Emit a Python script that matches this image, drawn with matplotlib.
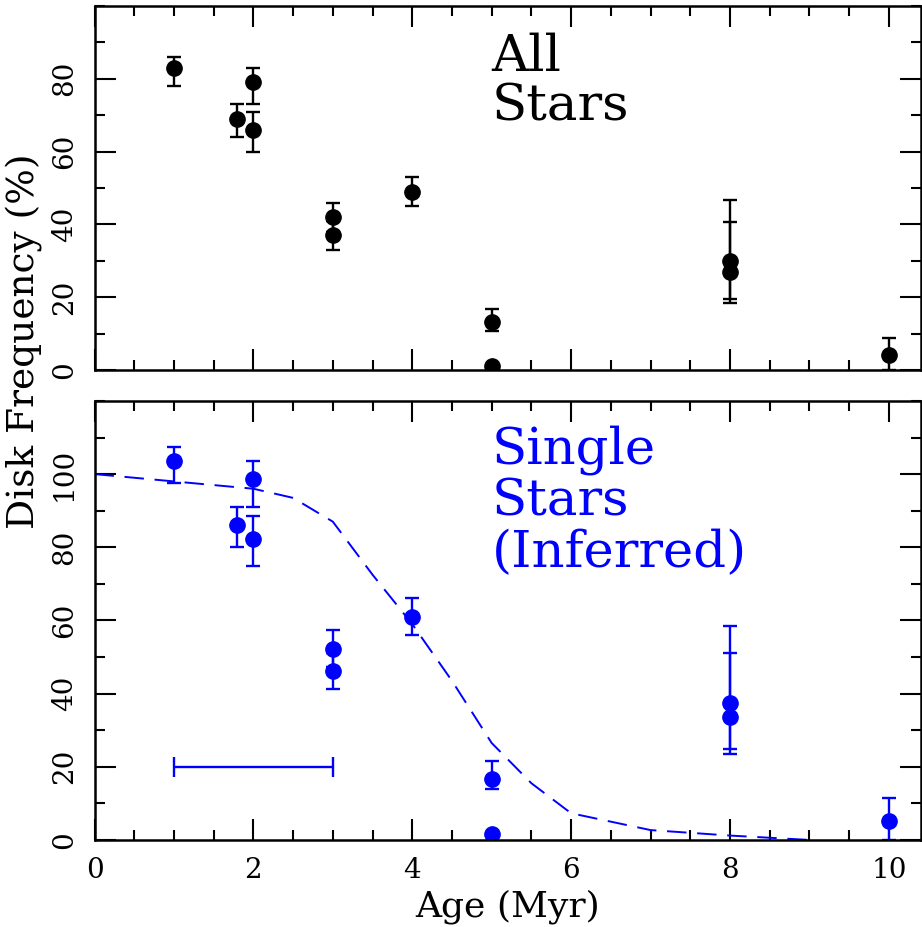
import matplotlib
matplotlib.use("Agg")
import matplotlib.pyplot as plt
from matplotlib.ticker import MultipleLocator

plt.rcParams["font.family"] = ["DejaVu Serif"]

# ── data ────────────────────────────────────────────────────────────────────
age_all = [1, 1.8, 2, 2, 3, 3, 4, 5, 5, 8, 8, 10]
freq_all = [83, 69, 79, 66, 42, 37, 49, 13.2, 1, 30, 27, 4]
all_err_lo = [5, 5, 6, 6, 4, 4, 4, 2.5, 0, 11.5, 7.5, 4]
all_err_hi = [3, 4, 4, 5, 4, 4, 4, 3.5, 0, 16.6, 13.6, 4.7]

age_single = [1, 1.8, 2, 2, 3, 3, 4, 5, 5, 8, 8, 10]
freq_single = [103.6, 86.1, 98.6, 82.3, 52.3, 46.1, 61.0, 16.7, 1.5, 37.5, 33.7, 5.2]
single_err_lo = [6.1, 6.1, 7.5, 7.3, 5, 4.9, 4.9, 2.9, 0, 13.9, 8.9, 5.2]
single_err_hi = [3.7, 5.0, 5.0, 6.2, 5.1, 5, 5.1, 4.8, 0, 21.1, 17.4, 6.2]

# dashed model curve
model_age = [0, 1, 2, 2.5, 3, 3.5, 4, 4.5, 5, 5.5, 6, 7, 8, 9]
model_freq = [100, 98, 96, 93.5, 87, 72.5, 59, 43.5, 26.5, 15.5, 7.3, 2.7, 1.2, 0]

# age-uncertainty bar
bar_age, bar_err, bar_y = 2, 1, 20

BLUE = "#0000FF"

fig = plt.figure(figsize=(9.22, 9.27), dpi=100)
ax1 = fig.add_axes([0.1025, 0.6009, 0.896, 0.3927])
ax2 = fig.add_axes([0.1025, 0.0939, 0.896, 0.4736])

eb_kw = dict(fmt="o", markersize=11, elinewidth=1.7, capsize=5.3,
             capthick=1.7, linestyle="none")

ax1.errorbar(age_all, freq_all, yerr=[all_err_lo, all_err_hi],
             color="black", **eb_kw)
ax2.errorbar(age_single, freq_single, yerr=[single_err_lo, single_err_hi],
             color=BLUE, **eb_kw)
ax2.errorbar([bar_age], [bar_y], xerr=[bar_err], fmt="none", ecolor=BLUE,
             elinewidth=1.7, capsize=7, capthick=1.7)
ax2.plot(model_age, model_freq, color=BLUE, linewidth=1.4,
         dashes=(10, 5.5))

txt_kw = dict(fontsize=37)
ax1.text(5.0, 82.2, "All", color="black", **txt_kw)
ax1.text(5.0, 68.5, "Stars", color="black", **txt_kw)
ax2.text(5.0, 102.9, "Single", color=BLUE, **txt_kw)
ax2.text(5.0, 88.7, "Stars", color=BLUE, **txt_kw)
ax2.text(5.0, 74.6, "(Inferred)", color=BLUE, **txt_kw)

ax1.set_ylim(0, 100)
ax2.set_ylim(0, 120)
ax1.set_yticks([0, 20, 40, 60, 80])
ax2.set_yticks([0, 20, 40, 60, 80, 100])

for ax in (ax1, ax2):
    ax.set_xlim(0, 10.4)
    ax.set_xticks([0, 2, 4, 6, 8, 10])
    ax.xaxis.set_minor_locator(MultipleLocator(0.5))
    ax.yaxis.set_minor_locator(MultipleLocator(10))
    ax.tick_params(which="both", direction="in", top=True, right=True,
                   width=1.5, labelsize=20, pad=12)
    ax.tick_params(which="major", length=15)
    ax.tick_params(which="minor", length=7.5)
    ax.tick_params(axis="y", labelrotation=90)
    for lab in ax.get_yticklabels():
        lab.set_va("center")
    for s in ax.spines.values():
        s.set_linewidth(1.8)

ax1.tick_params(axis="x", labelbottom=False)

ax2.set_xlabel("Age (Myr)", fontsize=26, labelpad=4)
fig.text(0.027, 0.632, "Disk Frequency (%)", fontsize=27, rotation=90,
         ha="center", va="center")

fig.savefig("out.png", dpi=100)
